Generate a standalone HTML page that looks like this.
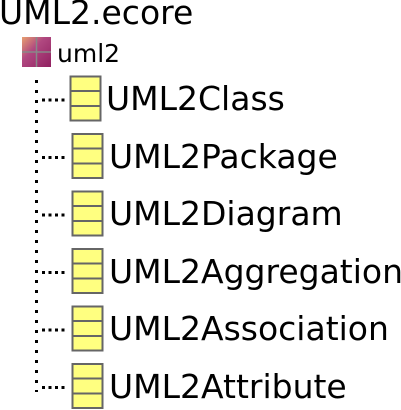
<!DOCTYPE html>
<html><head><style>
body{margin:0;width:401px;height:410px;background:#fff;position:relative;overflow:hidden;font-family:"DejaVu Sans","Liberation Sans",sans-serif;color:#000}
.t{position:absolute;line-height:1;white-space:nowrap;font-size:33px}
</style></head><body>
<svg width="401" height="410" style="position:absolute;left:0;top:0">
<defs>
<linearGradient id="pg" x1="0" y1="0" x2="1" y2="1"><stop offset="0" stop-color="#e8a070"/><stop offset="0.4" stop-color="#b04880"/><stop offset="1" stop-color="#902060"/></linearGradient>
<g id="cls"><rect x="0.5" y="0.5" width="30" height="44" fill="#ffff80" stroke="#666" stroke-width="2"/><line x1="0" y1="15" x2="31" y2="15" stroke="#666" stroke-width="2"/><line x1="0" y1="30" x2="31" y2="30" stroke="#666" stroke-width="2"/></g>
</defs>
<rect x="22" y="37" width="29" height="30" fill="url(#pg)"/>
<line x1="22" y1="52" x2="51" y2="52" stroke="#888" stroke-width="1.5"/>
<line x1="36.5" y1="37" x2="36.5" y2="67" stroke="#888" stroke-width="1.5"/>
<line x1="36.5" y1="80" x2="36.5" y2="392" stroke="#000" stroke-width="3" stroke-dasharray="3 7"/>
<g stroke="#000" stroke-width="3" stroke-dasharray="3 3.5">
<line x1="42" y1="100" x2="68" y2="100"/>
<line x1="42" y1="157.5" x2="68" y2="157.5"/>
<line x1="42" y1="215" x2="68" y2="215"/>
<line x1="42" y1="272.5" x2="68" y2="272.5"/>
<line x1="42" y1="330" x2="68" y2="330"/>
<line x1="42" y1="387.5" x2="68" y2="387.5"/>
</g>
<use href="#cls" x="70" y="76"/>
<use href="#cls" x="72" y="133.5"/>
<use href="#cls" x="72" y="191"/>
<use href="#cls" x="72" y="248.5"/>
<use href="#cls" x="72" y="306"/>
<use href="#cls" x="72" y="363.5"/>
</svg>
<div class="t" style="left:-1px;top:-4px">UML2.ecore</div>
<div class="t" style="left:57px;top:41px;font-size:25px">uml2</div>
<div class="t" style="left:106px;top:82px">UML2Class</div>
<div class="t" style="left:109px;top:139.5px">UML2Package</div>
<div class="t" style="left:109px;top:197px">UML2Diagram</div>
<div class="t" style="left:109px;top:254.5px">UML2Aggregation</div>
<div class="t" style="left:109px;top:312px">UML2Association</div>
<div class="t" style="left:109px;top:369.5px">UML2Attribute</div>
</body></html>
